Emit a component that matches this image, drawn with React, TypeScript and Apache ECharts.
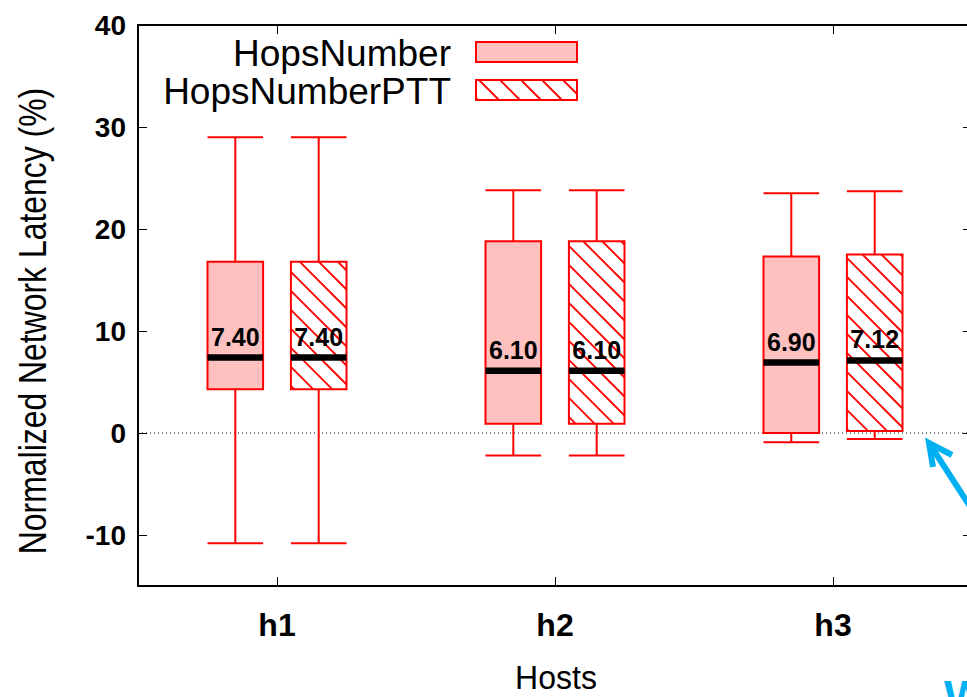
import React, { useEffect, useRef } from "react";
import * as echarts from "echarts";

const categories = ["h1", "h2", "h3"];
// [categoryIndex, min, q1, median, q3, max]
const hopsNumber = [
  [0, -10.8, 4.3, 7.4, 16.8, 29.0],
  [1, -2.2, 0.9, 6.1, 18.8, 23.8],
  [2, -0.9, 0.0, 6.9, 17.3, 23.5],
];
const hopsNumberPTT = [
  [0, -10.8, 4.3, 7.4, 16.8, 29.0],
  [1, -2.2, 0.9, 6.1, 18.8, 23.8],
  [2, -0.6, 0.2, 7.12, 17.5, 23.7],
];
const yTicks = [-10, 0, 10, 20, 30, 40];
const seriesNames = ["HopsNumber", "HopsNumberPTT"];

const FONT = "'Liberation Sans', Arial, Helvetica, sans-serif";
const RED = "#ff0000";
const PINK = "#ffc0c0";
const BLUE = "#00b0f0";

function hatchLines(x0: number, y0: number, x1: number, y1: number, step: number, lw: number) {
  const out: any[] = [];
  const kMin = Math.floor((x0 - y1) / step) * step;
  const kMax = x1 - y0;
  for (let k = kMin; k <= kMax; k += step) {
    const xs = Math.max(x0, y0 + k);
    const xe = Math.min(x1, y1 + k);
    if (xe - xs > 0.5) {
      out.push({
        type: "line",
        shape: { x1: xs, y1: xs - k, x2: xe, y2: xe - k },
        style: { stroke: RED, lineWidth: lw },
      });
    }
  }
  return out;
}

function makeRender(offset: number, hatched: boolean) {
  return (params: any, api: any) => {
    const ci = api.value(0);
    const lo = api.value(1);
    const q1 = api.value(2);
    const med = api.value(3);
    const q3 = api.value(4);
    const hi = api.value(5);
    const band = api.size([1, 0])[0];
    const cx = api.coord([ci, med])[0] + offset * band;
    const hw = 0.1 * band;
    const yLo = api.coord([ci, lo])[1];
    const yQ1 = api.coord([ci, q1])[1];
    const yMed = api.coord([ci, med])[1];
    const yQ3 = api.coord([ci, q3])[1];
    const yHi = api.coord([ci, hi])[1];
    const x0 = cx - hw;
    const x1 = cx + hw;
    const ls = { stroke: RED, lineWidth: 2 };
    const children: any[] = [
      { type: "line", shape: { x1: cx, y1: yQ3, x2: cx, y2: yHi }, style: ls },
      { type: "line", shape: { x1: x0, y1: yHi, x2: x1, y2: yHi }, style: ls },
      { type: "line", shape: { x1: cx, y1: yQ1, x2: cx, y2: yLo }, style: ls },
      { type: "line", shape: { x1: x0, y1: yLo, x2: x1, y2: yLo }, style: ls },
      {
        type: "rect",
        shape: { x: x0, y: yQ3, width: 2 * hw, height: yQ1 - yQ3 },
        style: { fill: hatched ? "#ffffff" : PINK, stroke: "none" },
      },
    ];
    if (hatched) children.push(...hatchLines(x0, yQ3, x1, yQ1, 19, 1.8));
    children.push(
      {
        type: "rect",
        shape: { x: x0, y: yQ3, width: 2 * hw, height: yQ1 - yQ3 },
        style: { fill: "none", stroke: RED, lineWidth: 2 },
      },
      {
        type: "line",
        shape: { x1: x0, y1: yMed, x2: x1, y2: yMed },
        style: { stroke: "#000", lineWidth: 6.5 },
      },
      {
        type: "text",
        x: cx,
        y: yMed - 21,
        style: {
          text: med.toFixed(2),
          fill: "#000",
          fontSize: 25,
          fontWeight: "bold",
          fontFamily: FONT,
          align: "center",
          verticalAlign: "middle",
        },
      }
    );
    return { type: "group", children };
  };
}

function zeroLineRender(params: any, api: any) {
  const cs = params.coordSys;
  const y = api.coord([0, api.value(1)])[1];
  return {
    type: "line",
    shape: { x1: cs.x, y1: y, x2: cs.x + cs.width, y2: y },
    style: { stroke: "#000", lineWidth: 1, lineDash: [1, 3] },
  };
}

const legendRows = [
  { y: 42, hatched: false },
  { y: 80, hatched: true },
];

function buildGraphics() {
  const g: any[] = [];
  legendRows.forEach((r, i) => {
    g.push({
      type: "text",
      x: 451,
      y: r.y + 11,
      style: {
        text: seriesNames[i],
        fill: "#000",
        fontSize: 37,
        fontFamily: FONT,
        align: "right",
        verticalAlign: "middle",
      },
    });
    g.push({
      type: "rect",
      shape: { x: 476, y: r.y, width: 101, height: 20 },
      style: { fill: r.hatched ? "#fff" : PINK, stroke: "none" },
    });
    if (r.hatched) g.push(...hatchLines(476, r.y, 577, r.y + 20, 21, 1.8));
    g.push({
      type: "rect",
      shape: { x: 476, y: r.y, width: 101, height: 20 },
      style: { fill: "none", stroke: RED, lineWidth: 2 },
    });
  });
  g.push({
    type: "text",
    x: 32,
    y: 321,
    rotation: Math.PI / 2,
    scaleX: 0.84,
    style: {
      text: "Normalized Network Latency (%)",
      fill: "#000",
      fontSize: 38,
      fontFamily: FONT,
      align: "center",
      verticalAlign: "middle",
    },
  });
  g.push({
    type: "text",
    x: 556,
    y: 678,
    scaleX: 0.97,
    style: {
      text: "Hosts",
      fill: "#000",
      fontSize: 33,
      fontFamily: FONT,
      align: "center",
      verticalAlign: "middle",
    },
  });
  // blue annotation arrow
  g.push({
    type: "line",
    shape: { x1: 929, y1: 443, x2: 995, y2: 545 },
    style: { stroke: BLUE, lineWidth: 6 },
  });
  g.push({
    type: "polyline",
    shape: { points: [[952, 455], [929, 443], [933, 467]] },
    style: { stroke: BLUE, lineWidth: 6, fill: "none" },
  });
  g.push({
    type: "text",
    x: 944,
    y: 674,
    style: {
      text: "W",
      fill: BLUE,
      fontSize: 46,
      fontWeight: "bold",
      fontFamily: FONT,
      align: "left",
      verticalAlign: "top",
    },
  });
  return g;
}

export default function App() {
  const ref = useRef<HTMLDivElement>(null);
  useEffect(() => {
    if (!ref.current) return;
    const chart = echarts.init(ref.current, null, { renderer: "svg" });
    const axisLine = { show: true, onZero: false, lineStyle: { color: "#000", width: 2 } };
    const tick = {
      show: true,
      alignWithLabel: true,
      inside: true,
      length: 9,
      lineStyle: { color: "#000", width: 1 },
    };
    const option: any = {
      animation: false,
      backgroundColor: "#fff",
      grid: {
        left: 138,
        top: 25,
        width: 834,
        bottom: 111,
        containLabel: false,
        outerBoundsMode: "none",
      },
      xAxis: [
        {
          type: "category",
          data: categories,
          position: "bottom",
          boundaryGap: true,
          axisLine,
          axisTick: tick,
          axisLabel: {
            color: "#000",
            fontSize: 32,
            fontWeight: "bold",
            fontFamily: FONT,
            margin: 23,
          },
          splitLine: { show: false },
        },
        {
          type: "category",
          data: categories,
          position: "top",
          boundaryGap: true,
          axisLine,
          axisTick: tick,
          axisLabel: { show: false },
          splitLine: { show: false },
        },
      ],
      yAxis: [
        {
          type: "value",
          min: -15,
          max: 40,
          position: "left",
          axisLine,
          axisTick: { ...tick, customValues: yTicks },
          axisLabel: {
            customValues: yTicks,
            color: "#000",
            fontSize: 28,
            fontWeight: "bold",
            fontFamily: FONT,
            margin: 12,
          },
          splitLine: { show: false },
        },
        {
          type: "value",
          min: -15,
          max: 40,
          position: "right",
          axisLine,
          axisTick: { ...tick, customValues: yTicks },
          axisLabel: { show: false },
          splitLine: { show: false },
        },
      ],
      series: [
        {
          type: "custom",
          name: "zero",
          silent: true,
          data: [[0, 0]],
          encode: { x: 0, y: 1 },
          renderItem: zeroLineRender,
          z: 1,
        },
        {
          type: "custom",
          name: seriesNames[0],
          data: hopsNumber,
          encode: { x: 0, y: [1, 2, 3, 4, 5] },
          renderItem: makeRender(-0.15, false),
          z: 2,
        },
        {
          type: "custom",
          name: seriesNames[1],
          data: hopsNumberPTT,
          encode: { x: 0, y: [1, 2, 3, 4, 5] },
          renderItem: makeRender(0.15, true),
          z: 2,
        },
      ],
      graphic: buildGraphics(),
    };
    chart.setOption(option);
    return () => chart.dispose();
  }, []);
  return (
    <div
      ref={ref}
      style={{ position: "fixed", left: 0, top: 0, width: 967, height: 697, background: "#fff" }}
    />
  );
}
